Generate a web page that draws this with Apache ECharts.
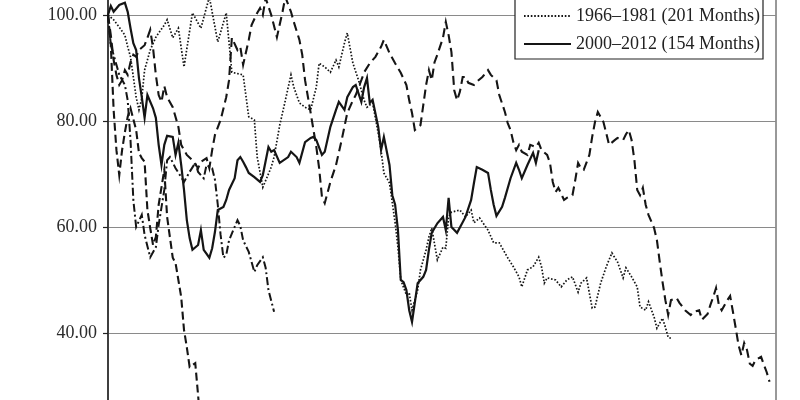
<!DOCTYPE html>
<html>
<head>
<meta charset="utf-8">
<script src="https://cdn.jsdelivr.net/npm/echarts@6/dist/echarts.min.js"></script>
<style>
html,body{margin:0;padding:0;background:#fff;overflow:hidden;width:800px;height:400px;position:relative;}
#chart{position:absolute;left:0;top:-101px;width:800px;height:560px;}
</style>
</head>
<body>
<div id="chart"></div>
<script>
// ---- data (months since start of each period, index value; start = 100) ----
const nameA = '1966\u20131981 (201 Months)';
const nameB = '2000\u20132012 (154 Months)';
const nameC = 'Period C';
const nameD = 'Period D';
const nameE = 'Period E';

const monthsA = [0,2,4,6,7,8,9,10,11,12,13,14,15,17,18,20,21,23,25,27,30,33,36,39,42,44,48,50,52,53,55,58,59,61,63,65,66,68,70,72,74,75,77,79,81,82,84,85,87,89,91,92,94,96,97,98,100,102,103,104,106,107,108,110,111,113,114,115,117,119,120,121,122,125,127,129,130,132,135,137,139,142,144,146,147,149,151,153,154,155,156,159,161,163,165,167,168,170,172,173,175,177,179,181,183,184,186,188,189,191,192,194,195,197,198,199,200];
const valuesA = [100,99.1,97.7,96.2,94.0,92.1,88.3,84.5,82.1,84.3,89.6,91.5,93.4,95.8,96.6,98.1,99.1,95.7,97.5,90.2,100.4,97.5,103.4,94.9,100.4,89.2,88.7,80.8,80.2,73.2,67.5,71.3,73.2,79.2,83.9,88.7,86.4,83.4,82.6,82.1,86.4,90.9,90.2,89.2,91.5,90.2,94.7,96.6,90.9,87.7,83.9,82.6,83.4,77.7,74.5,70.2,68.3,60.8,56.2,50.0,47.2,47.6,44.3,48.1,51.9,55.7,58.1,59.8,53.8,56.2,56.0,61.9,62.8,63.2,61.9,63.2,60.8,61.7,59.4,57.0,57.0,54.2,52.5,50.6,48.7,51.9,52.5,54.3,52.5,49.4,50.4,50.0,48.7,50.0,50.6,47.7,49.4,50.4,44.7,44.9,49.4,52.5,55.1,53.4,50.4,52.3,50.6,48.7,44.9,44.3,45.9,43.0,40.9,42.8,41.1,39.2,39.0];

const monthsB = [0,1,2,4,6,7,8,9,10,11,12,13,14,16,17,18,19,20,21,23,24,25,26,27,28,29,30,32,33,34,36,37,38,39,41,42,43,45,46,47,48,49,50,52,54,55,57,58,59,61,64,65,67,68,70,72,73,74,76,77,79,81,82,84,85,87,88,90,91,92,93,94,96,97,98,100,101,102,103,104,105,106,107,108,110,112,113,114,115,117,119,120,121,122,124,127,129,130,131,133,135,136,137,138,140,141,143,145,146,147,149,151,152,153];
const valuesB = [100,101.7,100.6,101.9,102.3,100.6,97.5,94.7,93.4,88.1,84.5,80.6,84.9,82.4,80.6,75.5,71.7,75.5,77.2,77.0,73.6,75.9,71.7,67.0,61.3,57.9,55.7,56.6,59.4,55.7,54.2,56.0,59.1,63.2,63.8,65.1,67.0,69.2,72.6,73.2,72.3,71.3,70.2,69.4,68.5,69.8,75.1,74.2,74.5,72.1,73.2,74.2,73.2,72.1,76.0,76.8,77.0,76.4,73.6,74.2,78.9,82.1,83.6,82.1,84.5,86.4,86.8,83.6,86.4,88.1,83.4,84.0,78.9,74.5,77.0,71.7,66.0,64.2,59.4,50.0,49.6,48.1,44.3,42.1,49.4,50.6,51.9,55.7,58.9,60.7,61.9,59.4,65.5,60.0,58.9,61.9,65.1,68.3,71.3,70.8,70.2,67.0,64.2,62.1,63.8,65.5,69.2,72.1,70.8,69.2,71.7,74.0,72.1,74.5];

const monthsC = [0,1,2,3,4,5,6,7,8,9,10,11,13,14,15,16,17,18,19,20,21,23,25,26,28,30,32,33,35,36,37,38,40,42,43,44,46,47,48,50,51,53,54,55,56,58,60,62,63,65,66,68,69,70,72,74,75,76,77,79,81,83,85,87,88,90,91,93,95,97,98,100,102,104,106,107,108,109,111,112,113,114,115,116,117,119,120,121,122,123,124,125,126,127,128,130,131,133,135,136,138,139,141,142,143,144,145,146,147,149,150,152,153,154,156,157,158,159,160,162,163,165,166,167,168,169,171,172,173,174,176,177,178,180,181,183,184,185,186,187,188,189,190,191,192,194,195,196,197,198,199,200,202,203,205,207,208,210,211,213,214,215,216,217,218,220,221,222,223,224,225,226,227,228,229,230,232,233,234,235];
const valuesC = [100,96.2,91.5,88.7,86.8,87.7,89.6,88.7,91.1,92.5,
  92.1,93.4,94.3,95.7,97.2,93.8,88.7,84.9,83.6,86.6,
  84.5,82.6,78.9,75.5,73.6,72.6,71.1,72.3,73.0,71.1,
  74.5,77.4,80.2,84.5,87.7,95.7,93.4,94.0,90.6,95.3,
  98.1,100.4,101.3,100.0,103.2,100.0,95.8,100.6,103.4,100.6,
  98.7,95.3,92.5,87.7,81.5,75.1,71.1,65.7,64.5,68.5,
  71.7,76.4,81.5,83.9,84.9,87.7,89.2,90.9,92.1,94.0,
  95.3,92.8,90.9,89.1,86.8,83.9,81.5,78.3,79.2,83.0,
  86.8,89.6,87.7,91.1,92.5,95.7,98.7,96.2,93.0,85.8,
  83.9,85.5,88.3,88.3,87.2,86.8,87.4,88.3,89.6,88.7,
  87.7,84.9,81.7,79.6,78.3,76.0,74.5,75.5,74.2,73.6,
  75.5,75.1,75.9,74.5,73.6,72.1,68.5,66.6,67.4,65.1,
  65.5,66.0,68.9,72.1,71.1,70.8,73.6,77.0,79.8,81.7,
  79.8,77.7,75.5,76.4,76.8,76.4,77.5,78.3,76.4,72.6,
  67.0,66.0,67.4,64.2,62.3,59.8,57.5,53.4,49.6,46.2,
  43.4,46.2,46.6,45.7,44.3,43.4,44.0,44.3,42.5,43.6,
  45.3,46.8,48.5,45.3,44.3,46.2,47.0,44.0,40.9,37.7,
  35.8,38.1,36.8,34.2,33.8,34.9,35.5,34.0,32.6,30.8];

const monthsD = [0,1,3,4,6,7,8,9,10,12,13,15,17,18,20,21,22,24,26,27,29,31,32,34,35,37,38,39,40,41,42,43,46,47,48,50,52,53,55,56,57,59];
const valuesD = [100,94.3,90.6,88.7,86.8,83.9,76.4,65.1,60.0,62.3,58.5,54.3,56.2,60.4,67.0,72.6,73.2,71.1,69.4,68.5,70.4,72.1,70.4,69.2,71.7,71.1,68.9,64.2,58.5,54.2,54.7,57.5,61.3,60.2,57.5,55.3,51.5,52.8,54.3,52.3,48.1,44.0];

const monthsE = [0,1,2,3,4,5,6,7,8,10,11,12,13,14,15,16,17,18,20,21,23,24,26,27,28,29,31,32,33];
const valuesE = [100,94.3,82.1,74.5,69.8,74.5,77.9,80.8,82.4,78.3,74.0,73.0,72.3,63.2,59.8,56.6,58.1,64.2,70.8,61.9,54.2,53.2,46.8,40.6,37.3,33.6,34.3,28.3,21.7];

const yTicks = [20,40,60,80,100,120];

function pairs(ms, vs){ const n=Math.min(ms.length,vs.length); const o=[]; for(let i=0;i<n;i++) o.push([ms[i],vs[i]]); return o; }

const chart = echarts.init(document.getElementById('chart'), null, {renderer:'canvas'});
const serif = '"Liberation Serif","DejaVu Serif",serif';
function lineSeries(name, ms, vs, type, width, z){
  return {
    name, type:'line', data: pairs(ms, vs), symbol:'none', showSymbol:false,
    smooth:false, animation:false, z: z, color:'#151515',
    itemStyle:{color:'#151515'},
    lineStyle:{color:'#151515', width:width, type:type, cap:'butt', join:'miter'}
  };
}
chart.setOption({
  backgroundColor:'#ffffff',
  animation:false,
  grid:{left:108, right:24, top:10, bottom:20, show:true, borderColor:'#333', borderWidth:1, backgroundColor:'transparent'},
  xAxis:{type:'value', min:0, max:237.3, show:false, splitLine:{show:false}},
  yAxis:{
    type:'value', min:yTicks[0], max:yTicks[yTicks.length-1], interval:20,
    axisLine:{show:true, lineStyle:{color:'#222', width:1.5}},
    axisTick:{show:true, length:5, lineStyle:{color:'#222', width:1.2}},
    axisLabel:{margin:11, color:'#2b2b2b', fontFamily:serif, fontSize:18, formatter:v=>v.toFixed(2)},
    splitLine:{show:true, lineStyle:{color:'#8a8a8a', width:1}}
  },
  legend:{
    data:[nameA, nameB], orient:'vertical', left:515, top:71,
    padding:[37, 3, 6, 8], itemWidth:47, itemHeight:14, itemGap:10,
    backgroundColor:'#ffffff', borderColor:'#222', borderWidth:1.2, borderRadius:0,
    textStyle:{fontFamily:serif, fontSize:18, color:'#222', lineHeight:16},
    itemStyle:{opacity:0},
    selectedMode:false
  },
  series:[
    lineSeries(nameC, monthsC, valuesC, [9,5], 2.1, 2),
    lineSeries(nameE, monthsE, valuesE, [8,4], 2.1, 2),
    lineSeries(nameD, monthsD, valuesD, [8,3,2,3], 2, 2),
    lineSeries(nameA, monthsA, valuesA, [1.6,1.8], 1.7, 3),
    lineSeries(nameB, monthsB, valuesB, 'solid', 2.2, 4)
  ]
});
</script>
</body>
</html>
